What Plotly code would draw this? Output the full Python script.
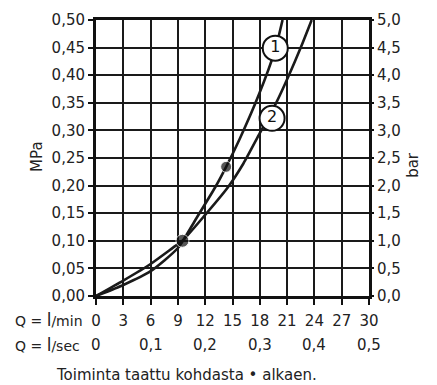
import plotly.graph_objects as go

# ---- data ----
flow_lmin_ticks = [0, 3, 6, 9, 12, 15, 18, 21, 24, 27, 30]
flow_lsec_pos = [0, 6, 12, 18, 24, 30]
flow_lsec_labels = ["0", "0,1", "0,2", "0,3", "0,4", "0,5"]
mpa_ticks = [0, 0.05, 0.10, 0.15, 0.20, 0.25, 0.30, 0.35, 0.40, 0.45, 0.50]
bar_ticks = [0, 0.5, 1.0, 1.5, 2.0, 2.5, 3.0, 3.5, 4.0, 4.5, 5.0]

curve1_q = [0, 3, 6, 9, 11, 13.1, 14.3, 15.8, 17.9, 19.7, 20.5]
curve1_p = [0, 0.02, 0.045, 0.087, 0.14, 0.197, 0.234, 0.285, 0.365, 0.447, 0.5]
curve2_q = [0, 3, 6, 8.5, 9.5, 12, 14.5, 16.2, 18.0, 19.8, 21.2, 22.5, 23.7]
curve2_p = [0, 0.028, 0.058, 0.088, 0.10, 0.147, 0.197, 0.24, 0.295, 0.35, 0.40, 0.45, 0.5]

dot1_q, dot1_p = [14.3], [0.234]
dot2_q, dot2_p = [9.5], [0.10]
label_q = [19.7, 19.35]
label_p = [0.449, 0.322]
label_text = ["1", "2"]

FONT = "DejaVu Sans"
INK = "#222222"

fig = go.Figure()
line_style = dict(color="#1a1a1a", width=2.6, shape="spline", smoothing=0.6)
fig.add_trace(go.Scatter(x=curve1_q, y=curve1_p, mode="lines", line=line_style,
                         hoverinfo="skip", showlegend=False))
fig.add_trace(go.Scatter(x=curve2_q, y=curve2_p, mode="lines", line=line_style,
                         hoverinfo="skip", showlegend=False))
fig.add_trace(go.Scatter(x=dot1_q + dot2_q, y=dot1_p + dot2_p, mode="markers",
                         marker=dict(color="#111111", size=[11, 13]),
                         hoverinfo="skip", showlegend=False))
fig.add_trace(go.Scatter(x=label_q, y=label_p, mode="markers+text", text=label_text,
                         textposition="middle center",
                         textfont=dict(family=FONT, size=16, color="#111111"),
                         marker=dict(color="white", size=25,
                                     line=dict(color="#111111", width=2)),
                         hoverinfo="skip", showlegend=False))
# invisible trace to activate right axis
fig.add_trace(go.Scatter(x=[0], y=[0], yaxis="y2", mode="markers",
                         marker=dict(opacity=0), hoverinfo="skip", showlegend=False))

tickfont = dict(family=FONT, size=15, color=INK)
fig.update_layout(
    width=437, height=385,
    margin=dict(l=88, r=76, t=12, b=97),
    paper_bgcolor="white", plot_bgcolor="white",
    separators=", ",
    font=dict(family=FONT, color=INK),
    xaxis=dict(range=[0, 30], tickvals=flow_lmin_ticks,
               ticktext=[str(v) for v in flow_lmin_ticks],
               showgrid=True, gridcolor="#1a1a1a", gridwidth=2,
               showline=True, linecolor="#111111", linewidth=3, mirror=True,
               ticks="outside", ticklen=6, tickwidth=2, tickcolor="#111111",
               ticklabelstandoff=3, automargin=False,
               tickfont=tickfont, zeroline=False, fixedrange=True),
    yaxis=dict(range=[0, 0.5], tickvals=mpa_ticks, tickformat=".2f",
               showgrid=True, gridcolor="#1a1a1a", gridwidth=2,
               showline=True, linecolor="#111111", linewidth=3, mirror=True,
               ticks="outside", ticklen=5, tickwidth=2, tickcolor="#111111",
               automargin=False,
               tickfont=tickfont, zeroline=False, fixedrange=True),
    yaxis2=dict(range=[0, 5], tickvals=bar_ticks, tickformat=".1f",
                overlaying="y", side="right", showgrid=False,
                ticks="outside", ticklen=4, tickwidth=2, tickcolor="#111111",
                automargin=False,
                tickfont=tickfont, zeroline=False, fixedrange=True),
)

ann = []
ann.append(dict(text="MPa", xref="paper", yref="paper", x=-0.216, y=0.504,
                xanchor="center", yanchor="middle",
                textangle=-90, showarrow=False, font=dict(family=FONT, size=15, color=INK)))
ann.append(dict(text="bar", xref="paper", yref="paper", x=1.161, y=0.475,
                xanchor="center", yanchor="middle",
                textangle=-90, showarrow=False, font=dict(family=FONT, size=15, color=INK)))
ann.append(dict(text="Q = <span style='font-size:17px'>l</span>/min",
                xref="paper", yref="paper", x=-0.305, y=-0.087, xanchor="left",
                yanchor="middle", showarrow=False, font=dict(family=FONT, size=14, color=INK)))
ann.append(dict(text="Q = <span style='font-size:17px'>l</span>/sec",
                xref="paper", yref="paper", x=-0.305, y=-0.178, xanchor="left",
                yanchor="middle", showarrow=False, font=dict(family=FONT, size=14, color=INK)))
for pos, lab in zip(flow_lsec_pos, flow_lsec_labels):
    ann.append(dict(text=lab, xref="x", yref="paper", x=pos, y=-0.178,
                    xanchor="center", yanchor="middle", showarrow=False,
                    font=dict(family=FONT, size=15, color=INK)))
ann.append(dict(text="Toiminta taattu kohdasta • alkaen.", xref="paper", yref="paper",
                x=0.333, y=-0.286, xanchor="center", yanchor="middle", showarrow=False,
                font=dict(family=FONT, size=15, color=INK)))
fig.update_layout(annotations=ann)

fig.write_html("out.html")
